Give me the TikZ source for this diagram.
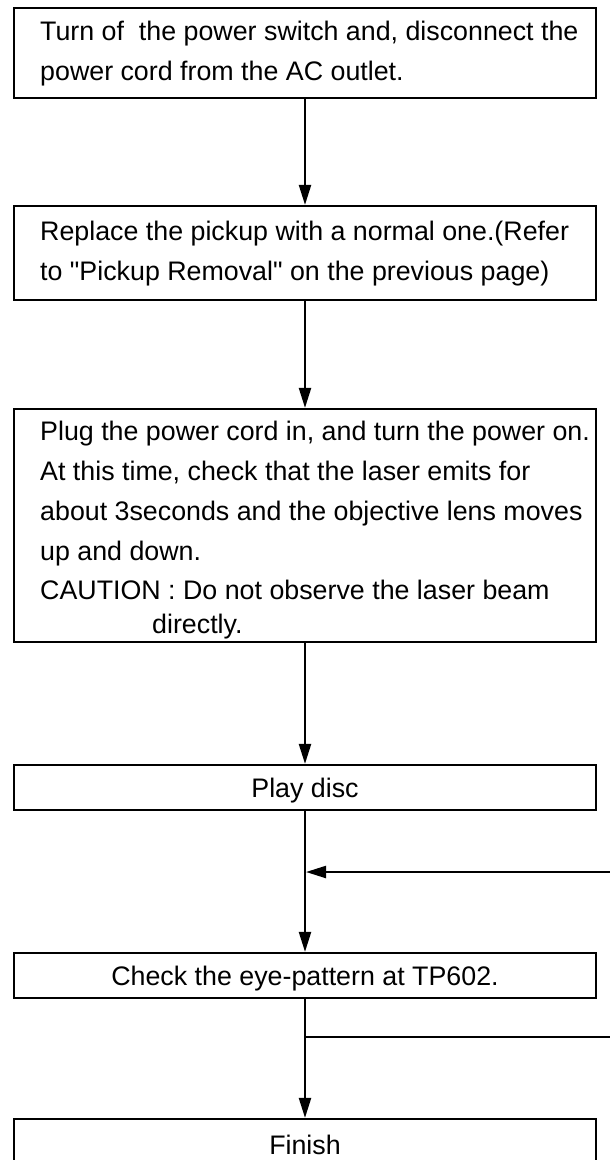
\documentclass[tikz,border=0pt]{standalone}
\usepackage{fontspec}
\setmainfont{Liberation Sans}[Ligatures=TeXOff]
\usetikzlibrary{arrows.meta}
\begin{document}
\begin{tikzpicture}[x=1pt,y=-1pt,
  box/.style={draw=black, line width=2.2pt, minimum width=582pt, inner sep=0pt},
  txt/.style={inner sep=0pt, anchor=base west, font=\fontsize{26.8}{32}\selectfont},
  ctxt/.style={inner sep=0pt, anchor=base, font=\fontsize{26.8}{32}\selectfont},
  conn/.style={line width=2.2pt},
  arr/.style={line width=2.2pt, -{Triangle[length=20pt,width=12pt]}}]
\useasboundingbox (0,0) rectangle (610,1160);
\clip (0,0) rectangle (610,1160);
% boxes
\node[box, minimum height=90pt] (b1) at (305,53) {};
\node[box, minimum height=94pt] (b2) at (305,253) {};
\node[box, minimum height=233pt] (b3) at (305,525.5) {};
\node[box, minimum height=45pt] (play) at (305,787.5) {};
\node[box, minimum height=45pt] (check) at (305,975.5) {};
\node[box, minimum height=81pt] (finish) at (305,1159.5) {};
% texts
\node[txt] (t1a) at (40,40) {Turn of\ \ the power switch and, disconnect the};
\node[txt] (t1b) at (40,80) {power cord from the AC outlet.};
\node[txt] (t2a) at (40,240) {Replace the pickup with a normal one.(Refer};
\node[txt] (t2b) at (40,280) {to "Pickup Removal" on the previous page)};
\node[txt] (t3a) at (40,440) {Plug the power cord in, and turn the power on.};
\node[txt] (t3b) at (40,480) {At this time, check that the laser emits for};
\node[txt] (t3c) at (40,520) {about 3seconds and the objective lens moves};
\node[txt] (t3d) at (40,560) {up and down.};
\node[txt] (t3e) at (40,599) {CAUTION : Do not observe the laser beam};
\node[txt] (t3f) at (152,633) {directly.};
\node[ctxt] (tp) at (305,797) {Play disc};
\node[ctxt] (tc) at (305,985) {Check the eye-pattern at TP602.};
\node[ctxt] (tf) at (305,1154) {Finish};
% connectors
\coordinate (fb) at (615,872);
\coordinate (br) at (615,1037);
\draw[arr] (b1) -- (b2);
\draw[arr] (b2) -- (b3);
\draw[arr] (b3) -- (play);
\draw[arr] (play) -- (check);
\draw[arr] (check) -- (finish);
\draw[arr] (fb) -- ([xshift=1pt]play.south |- fb);
\draw[conn] (check.south |- br) -- (br);
\end{tikzpicture}
\end{document}
